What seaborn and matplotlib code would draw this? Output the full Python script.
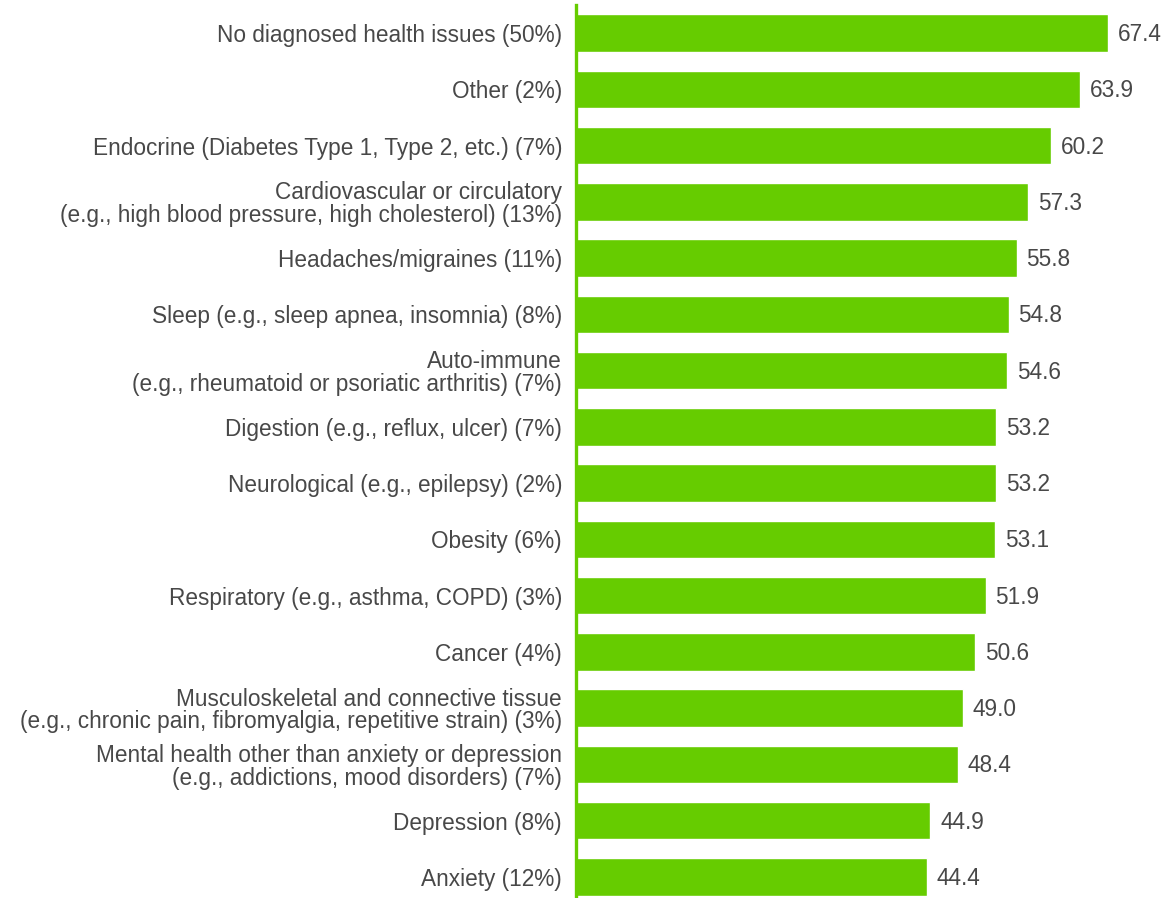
import matplotlib
matplotlib.use("Agg")
import matplotlib.pyplot as plt
import seaborn as sns
import pandas as pd

categories = [
    "No diagnosed health issues (50%)",
    "Other (2%)",
    "Endocrine (Diabetes Type 1, Type 2, etc.) (7%)",
    "Cardiovascular or circulatory\n(e.g., high blood pressure, high cholesterol) (13%)",
    "Headaches/migraines (11%)",
    "Sleep (e.g., sleep apnea, insomnia) (8%)",
    "Auto-immune\n(e.g., rheumatoid or psoriatic arthritis) (7%)",
    "Digestion (e.g., reflux, ulcer) (7%)",
    "Neurological (e.g., epilepsy) (2%)",
    "Obesity (6%)",
    "Respiratory (e.g., asthma, COPD) (3%)",
    "Cancer (4%)",
    "Musculoskeletal and connective tissue\n(e.g., chronic pain, fibromyalgia, repetitive strain) (3%)",
    "Mental health other than anxiety or depression\n(e.g., addictions, mood disorders) (7%)",
    "Depression (8%)",
    "Anxiety (12%)",
]
values = [67.4, 63.9, 60.2, 57.3, 55.8, 54.8, 54.6, 53.2, 53.2, 53.1, 51.9, 50.6, 49.0, 48.4, 44.9, 44.4]

GREEN = "#66CC00"
TEXT = "#484848"
FS = 16.3

sns.set_theme(style="white")
plt.rcParams["font.family"] = ["Liberation Sans", "DejaVu Sans"]

df = pd.DataFrame({"category": categories, "value": values})

fig = plt.figure(figsize=(11.76, 8.98), dpi=100)
ax = fig.add_axes([576 / 1176, -7 / 898, 600 / 1176, 900 / 898])

sns.barplot(data=df, x="value", y="category", orient="h", color=GREEN,
            saturation=1, width=0.67, ax=ax)

ax.set_xlim(0, 76.0)
ax.set_ylim(15.5, -0.5)
ax.set_xlabel("")
ax.set_ylabel("")
ax.set_xticks([])
ax.tick_params(axis="y", length=0, pad=10, labelsize=FS, labelcolor=TEXT)
for lbl in ax.get_yticklabels():
    lbl.set_horizontalalignment("right")
    lbl.set_multialignment("right")
    lbl.set_linespacing(0.99)

for s in ["top", "right", "bottom"]:
    ax.spines[s].set_visible(False)
ax.spines["left"].set_color(GREEN)
ax.spines["left"].set_linewidth(2.4)

for i, v in enumerate(values):
    ax.annotate(f"{v:.1f}", xy=(v, i), xytext=(7, -1), textcoords="offset points",
                va="center", ha="left", fontsize=FS, color=TEXT)

fig.savefig("out.png", dpi=100)
